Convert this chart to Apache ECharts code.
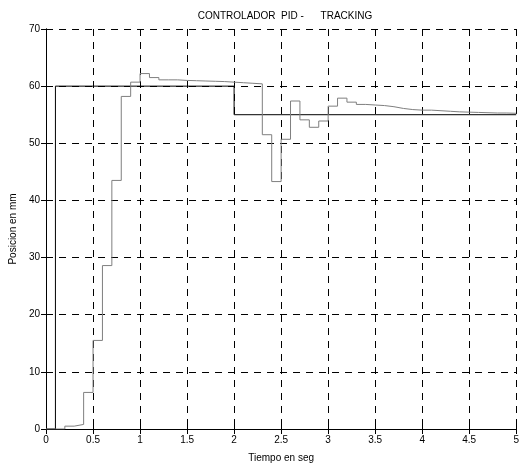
<!DOCTYPE html>
<html>
<head>
<meta charset="utf-8">
<script src="https://cdn.jsdelivr.net/npm/echarts@6/dist/echarts.min.js"></script>
<style>html,body{margin:0;padding:0;background:#fff}#c{width:522px;height:468px}</style>
</head>
<body>
<div id="c"></div>
<script>
// Sample times (s) of the zero-order-hold output, step 0.1 s
var times = [0,0.1,0.2,0.3,0.4,0.5,0.6,0.7,0.8,0.9,1.0,1.1,1.2,1.3,1.4,1.5,1.6,1.7,1.8,1.9,2.0,2.1,2.2,2.3,2.4,2.5,2.6,2.7,2.8,2.9,3.0,3.1,3.2,3.3,3.4,3.5,3.6,3.7,3.8,3.9,4.0,4.1,4.2,4.3,4.4,4.5,4.6,4.7,4.8,4.9,5.0];
var output = [0,0,0.5,0.8,6.4,15.5,28.6,43.5,58.2,60.7,62.2,61.5,61.1,61.1,61.0,60.95,60.9,60.85,60.8,60.7,60.6,60.5,60.4,51.5,43.3,50.7,57.4,54.1,52.8,53.9,56.5,57.9,57.2,56.8,56.7,56.6,56.4,56.1,55.9,55.8,55.8,55.7,55.6,55.5,55.45,55.4,55.35,55.3,55.3,55.25,55.25];
// Reference (setpoint) breakpoints
var refTimes = [0,0.1,2.0,5.0];
var refValues = [0,60,55,55];
var xTicks = [0,0.5,1,1.5,2,2.5,3,3.5,4,4.5,5];
var yTicks = [0,10,20,30,40,50,60,70];

var outData = times.map(function(t,i){return [t, output[i]];});
var refData = refTimes.map(function(t,i){return [t, refValues[i]];});

var font = 'Liberation Sans, Arial, sans-serif';
var chart = echarts.init(document.getElementById('c'), null, {renderer:'canvas'});
var tickStyle = {show:true, inside:true, length:5, lineStyle:{color:'#000', width:1}};
chart.setOption({
  animation:false,
  backgroundColor:'#fff',
  title:{text:'CONTROLADOR  PID -      TRACKING', left:280, top:6, textAlign:'center',
    textStyle:{fontFamily:font, fontSize:10, fontWeight:'normal', color:'#000'}},
  grid:{left:41, right:3, top:29, bottom:29, containLabel:false},
  xAxis:[{
    type:'value', min:xTicks[0], max:xTicks[xTicks.length-1], interval:0.5,
    name:'Tiempo en seg', nameLocation:'middle', nameGap:24,
    nameTextStyle:{fontFamily:font, fontSize:10, color:'#000'},
    axisLine:{show:true, lineStyle:{color:'#000', width:1}},
    axisTick:tickStyle,
    axisLabel:{fontFamily:font, fontSize:10, color:'#000', margin:6},
    splitLine:{show:true, lineStyle:{color:'#000', width:1, type:[7,6]}}
  },{
    type:'value', position:'top', min:0, max:5, interval:0.5,
    axisLine:{show:true, lineStyle:{color:'#000', width:1}},
    axisTick:tickStyle, axisLabel:{show:false}, splitLine:{show:false}
  }],
  yAxis:[{
    type:'value', min:yTicks[0], max:yTicks[yTicks.length-1], interval:10,
    name:'Posicion en mm', nameLocation:'middle', nameGap:28, nameRotate:90,
    nameTextStyle:{fontFamily:font, fontSize:10, color:'#000'},
    axisLine:{show:true, lineStyle:{color:'#000', width:1}},
    axisTick:tickStyle,
    axisLabel:{fontFamily:font, fontSize:10, color:'#000', margin:6},
    splitLine:{show:true, lineStyle:{color:'#000', width:1, type:[7,6]}}
  },{
    type:'value', position:'right', min:0, max:70, interval:10,
    axisLine:{show:true, lineStyle:{color:'#000', width:1}},
    axisTick:tickStyle, axisLabel:{show:false}, splitLine:{show:false}
  }],
  series:[{
    type:'line', step:'end', data:refData, symbol:'none',
    lineStyle:{color:'#000', width:1}, z:3
  },{
    type:'line', step:'end', data:outData, symbol:'none',
    lineStyle:{color:'#7f7f7f', width:1}, z:4
  }]
});
</script>
</body>
</html>
